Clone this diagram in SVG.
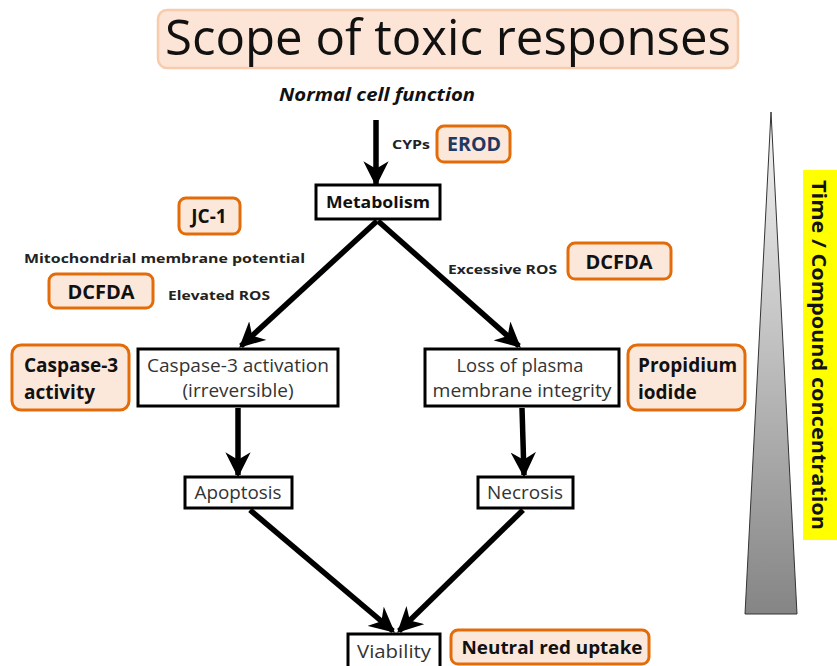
<svg xmlns="http://www.w3.org/2000/svg" width="837" height="666" viewBox="0 0 837 666">
<defs>
<style>
.box{fill:#fff;stroke:#000;stroke-width:3}
.tag{fill:#fce8da;stroke:#e36c0a;stroke-width:3}
.t{font-family:"Open Sans","Liberation Sans",sans-serif;fill:#111}
.b{font-weight:bold}
.n{font-size:18.5px;fill:#333}
.lbl{font-family:"Open Sans","Liberation Sans",sans-serif;font-weight:bold;font-size:13px;fill:#222}
.con{stroke:#000;stroke-width:5.5;fill:none;marker-end:url(#ah)}
</style>
<marker id="ah" viewBox="0 0 10 10" refX="9" refY="5" markerWidth="4.6" markerHeight="4.6" orient="auto" markerUnits="strokeWidth">
<path d="M0,0 L10,5 L0,10 L3,5 Z" fill="#000"/>
</marker>
<linearGradient id="tg" x1="0" y1="0" x2="0" y2="1">
<stop offset="0" stop-color="#f4f4f4"/>
<stop offset="1" stop-color="#858585"/>
</linearGradient>
</defs>
<rect width="837" height="666" fill="#fff"/>

<g id="title">
<rect x="158" y="10" width="580" height="58" rx="9" fill="#fce4d6" stroke="#f8cbad" stroke-width="2.5"/>
<text x="448" y="55" text-anchor="middle" class="t" font-size="50" textLength="566" lengthAdjust="spacingAndGlyphs">Scope of toxic responses</text>
</g>

<g id="normal">
<text x="377" y="101" text-anchor="middle" class="t b" font-size="18" font-style="italic" textLength="196" lengthAdjust="spacingAndGlyphs">Normal cell function</text>
</g>

<g id="connectors">
<line class="con" x1="376" y1="120" x2="376" y2="184"/>
<line class="con" x1="377" y1="221" x2="241" y2="346"/>
<line class="con" x1="378" y1="221" x2="519" y2="346"/>
<line class="con" x1="238" y1="408" x2="238" y2="475"/>
<line class="con" x1="522" y1="408" x2="524" y2="475"/>
<line class="con" x1="250" y1="510" x2="393" y2="631"/>
<line class="con" x1="523" y1="510" x2="399" y2="631"/>
</g>

<g id="metabolism">
<rect class="box" x="316" y="185" width="124" height="34"/>
<text x="378" y="208" text-anchor="middle" class="t b" font-size="16" textLength="104" lengthAdjust="spacingAndGlyphs">Metabolism</text>
</g>

<g id="cyps"><text x="392" y="149" class="lbl" font-size="14" textLength="38" lengthAdjust="spacingAndGlyphs">CYPs</text></g>
<g id="erod">
<rect class="tag" x="437" y="126" width="73" height="36" rx="7"/>
<text x="474" y="151" text-anchor="middle" class="t b" font-size="20" style="fill:#1f3864" textLength="54" lengthAdjust="spacingAndGlyphs">EROD</text>
</g>

<g id="jc1">
<rect class="tag" x="179" y="198" width="61" height="36" rx="7"/>
<text x="209" y="223" text-anchor="middle" class="t b" font-size="19">JC-1</text>
</g>
<g id="mito"><text x="24" y="263" class="lbl" textLength="281" lengthAdjust="spacingAndGlyphs">Mitochondrial  membrane potential</text></g>
<g id="dcfda-left">
<rect class="tag" x="49" y="274" width="104" height="34" rx="7"/>
<text x="101" y="299" text-anchor="middle" class="t b" font-size="20">DCFDA</text>
</g>
<g id="elevated"><text x="168" y="300" class="lbl" font-weight="600" textLength="102" lengthAdjust="spacingAndGlyphs">Elevated ROS</text></g>

<g id="excessive"><text x="448" y="274" class="lbl" font-weight="600" textLength="109" lengthAdjust="spacingAndGlyphs">Excessive ROS</text></g>
<g id="dcfda-right">
<rect class="tag" x="568" y="243" width="103" height="36" rx="7"/>
<text x="619" y="269" text-anchor="middle" class="t b" font-size="20">DCFDA</text>
</g>

<g id="caspase-activity">
<rect class="tag" x="12" y="345" width="117" height="65" rx="9"/>
<text x="24" y="372" class="t b" font-size="19">Caspase-3</text>
<text x="24" y="399" class="t b" font-size="19">activity</text>
</g>
<g id="caspase-activation">
<rect class="box" x="138" y="349" width="200" height="57"/>
<text x="238" y="372" text-anchor="middle" class="t n" textLength="182" lengthAdjust="spacingAndGlyphs">Caspase-3 activation</text>
<text x="238" y="397" text-anchor="middle" class="t n" textLength="111" lengthAdjust="spacingAndGlyphs">(irreversible)</text>
</g>
<g id="loss">
<rect class="box" x="425" y="349" width="194" height="57"/>
<text x="520" y="372" text-anchor="middle" class="t n" textLength="127" lengthAdjust="spacingAndGlyphs">Loss of plasma</text>
<text x="522" y="397" text-anchor="middle" class="t n" textLength="179" lengthAdjust="spacingAndGlyphs">membrane integrity</text>
</g>
<g id="propidium">
<rect class="tag" x="628" y="345" width="117" height="65" rx="9"/>
<text x="638" y="372" class="t b" font-size="19">Propidium</text>
<text x="638" y="399" class="t b" font-size="19">iodide</text>
</g>

<g id="apoptosis">
<rect class="box" x="185" y="477" width="107" height="31"/>
<text x="238" y="499" text-anchor="middle" class="t n" textLength="87" lengthAdjust="spacingAndGlyphs">Apoptosis</text>
</g>
<g id="necrosis">
<rect class="box" x="478" y="477" width="95" height="31"/>
<text x="525" y="499" text-anchor="middle" class="t n" textLength="76" lengthAdjust="spacingAndGlyphs">Necrosis</text>
</g>

<g id="viability">
<rect class="box" x="348" y="634" width="92" height="34"/>
<text x="394" y="658" text-anchor="middle" class="t n" textLength="74" lengthAdjust="spacingAndGlyphs">Viability</text>
</g>
<g id="neutral">
<rect class="tag" x="451" y="630" width="198" height="34" rx="7"/>
<text x="552" y="654" text-anchor="middle" class="t b" font-size="18" textLength="181" lengthAdjust="spacingAndGlyphs">Neutral red uptake</text>
</g>

<g id="gradient-scale">
<polygon points="771,112 797,614 745,614" fill="url(#tg)" stroke="#333" stroke-width="1"/>
<rect x="803" y="170" width="34" height="370" fill="#ffff00"/>
<text transform="translate(812,355) rotate(90)" text-anchor="middle" class="t b" font-size="20" textLength="350" lengthAdjust="spacingAndGlyphs">Time / Compound concentration</text>
</g>
</svg>
